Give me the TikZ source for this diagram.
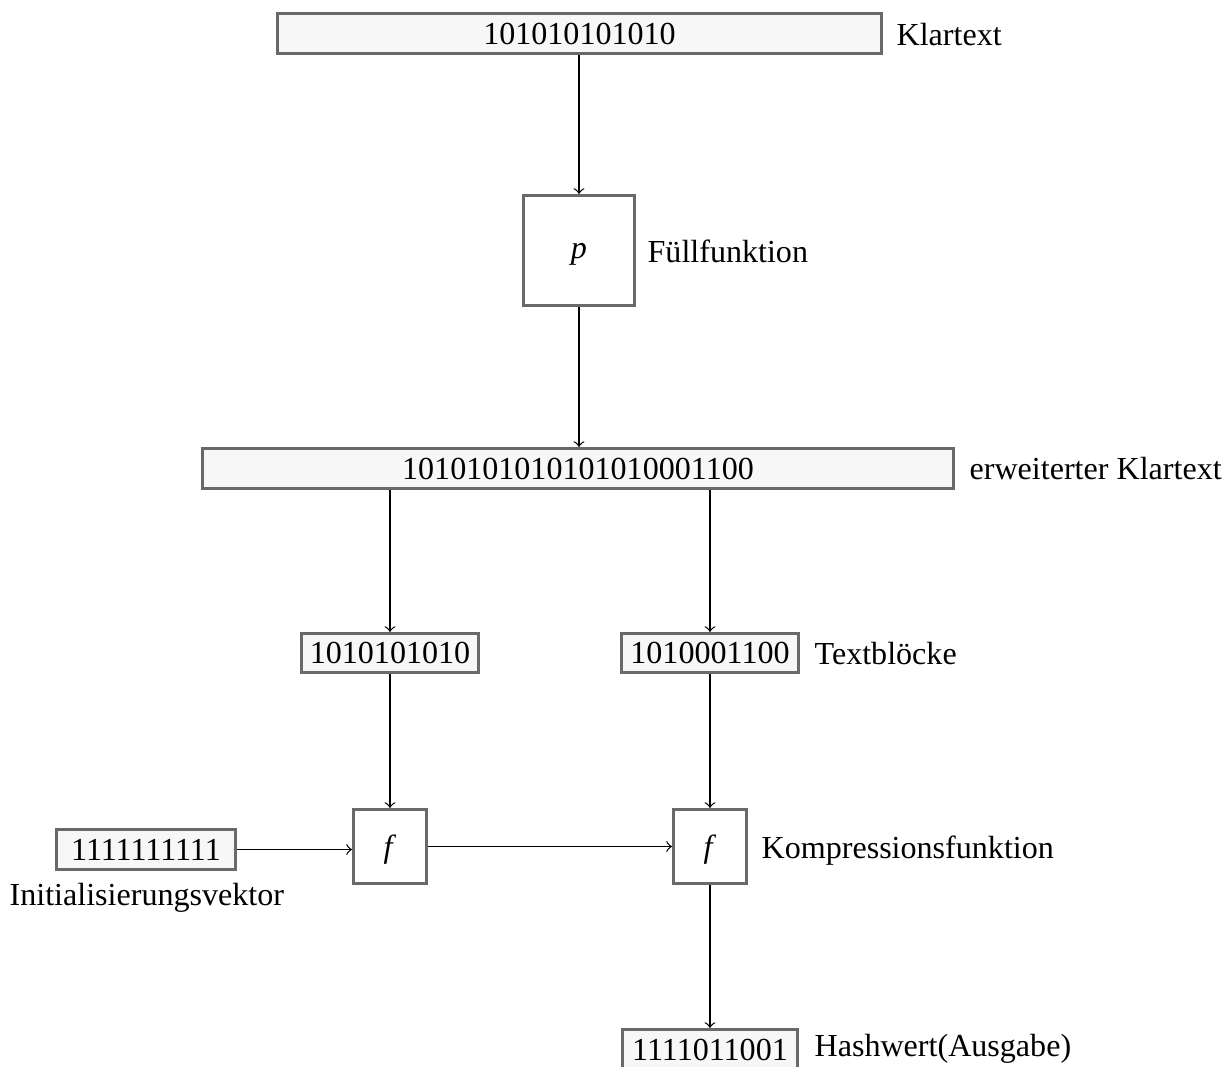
\documentclass[tikz,border=0pt]{standalone}
\usepackage{fontspec}
\setmainfont{Liberation Serif}
\definecolor{boxgray}{RGB}{105,105,105}
\definecolor{boxfill}{RGB}{247,247,247}
\begin{document}
\begin{tikzpicture}[x=0.3226pt,y=-0.3226pt,
  every node/.style={font=\fontsize{10.35pt}{12pt}\selectfont},
  sized/.style 2 args={minimum width=#1*0.3226pt,minimum height=#2*0.3226pt},
  databox/.style={draw=boxgray,line width=1pt,fill=boxfill,inner sep=0pt},
  funcbox/.style={draw=boxgray,line width=1pt,fill=white,inner sep=0pt,text depth=0pt},
  lbl/.style={anchor=base west,inner sep=0pt},
  conn/.style={->,line width=0.4pt}]
\useasboundingbox[fill=white] (0,0) rectangle (1228,1066);
% boxes
\node[databox,sized={604}{40}] (top) at (579.5,33.5) {101010101010};
\node[funcbox,sized={111}{110}] (p) at (579,250.5) {\textit{p}};
\node[databox,sized={751}{40}] (ext) at (578,468.5) {1010101010101010001100};
\node[databox,sized={177}{39}] (b1) at (390,653) {1010101010};
\node[databox,sized={177}{39}] (b2) at (710,653) {1010001100};
\node[funcbox,sized={73}{74}] (f1) at (390,846.5) {\textit{f}};
\node[funcbox,sized={73}{74}] (f2) at (710,846.5) {\textit{f}};
\node[databox,sized={179}{40}] (iv) at (146,849.5) {1111111111};
\node[databox,sized={175}{40}] (hash) at (710,1049.5) {1111011001};
% labels
\node[lbl] (lklar) at (896,45) {Klartext};
\node[lbl] (lfuell) at (647,262) {Füllfunktion};
\node[lbl] (lext) at (969,479) {erweiterter Klartext};
\node[lbl] (lblock) at (814,664) {Textblöcke};
\node[lbl] (lkomp) at (761,858) {Kompressionsfunktion};
\node[lbl] (liv) at (9,905) {Initialisierungsvektor};
\node[lbl] (lhash) at (814,1056) {Hashwert(Ausgabe)};
% connectors
\draw[conn] (top.south -| p.north) -- (p.north);
\draw[conn] (p.south) -- (p.south |- ext.north);
\draw[conn] (ext.south -| b1.north) -- (b1.north);
\draw[conn] (ext.south -| b2.north) -- (b2.north);
\draw[conn] (b1.south) -- (f1.north);
\draw[conn] (b2.south) -- (f2.north);
\draw[conn] (iv.east) -- (f1.west |- iv.east);
\draw[conn] (f1.east) -- (f2.west);
\draw[conn] (f2.south) -- (hash.north);
\end{tikzpicture}
\end{document}
